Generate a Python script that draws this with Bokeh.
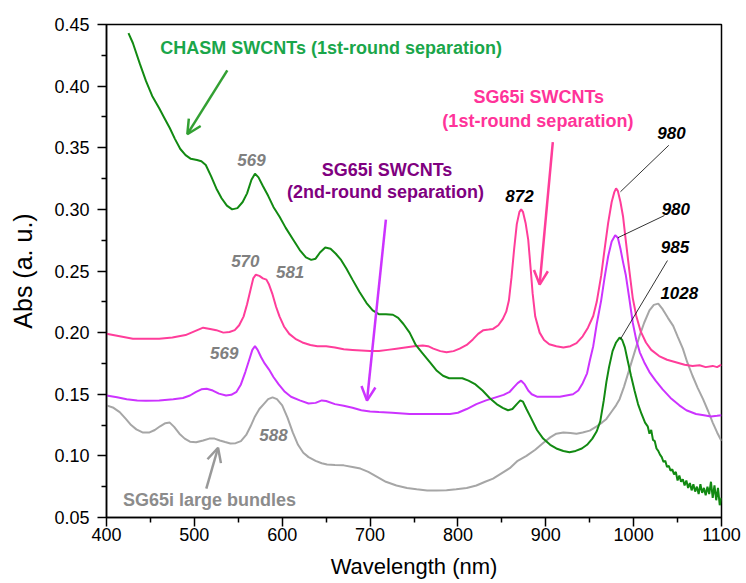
from bokeh.plotting import figure
from bokeh.models import Arrow, OpenHead, Label, Range1d, FixedTicker, NumeralTickFormatter
from bokeh.embed import file_html
from bokeh.resources import INLINE

# ---------------- data ----------------
chasm_x = [425, 430, 438, 445, 452, 460, 466, 472, 478, 484, 490, 496, 503, 508, 513, 519, 525, 531, 537, 543,
           549, 555, 560, 565, 569, 573, 578, 584, 590, 597, 604, 612, 620, 627, 633, 638, 643, 649, 655, 661,
           667, 673, 680, 688, 696, 703, 710, 718, 726, 732, 738, 745, 752, 760, 768, 776, 783, 790, 797, 805,
           812, 820, 828, 836, 844, 851, 857, 862, 867, 871, 874, 878, 883, 890, 897, 905, 912, 920, 927, 934,
           941, 947, 953, 958, 962, 966, 969, 972, 976, 980, 984, 987, 990, 993, 997, 1001, 1005, 1009, 1013,
           1016, 1018, 1020, 1022, 1024, 1026, 1028, 1030, 1032, 1034, 1036, 1038, 1040, 1042, 1044, 1046, 1048,
           1050, 1052, 1054, 1056, 1058, 1060, 1062, 1064, 1066, 1068, 1070, 1072, 1074, 1076, 1078, 1080, 1082,
           1084, 1086, 1088, 1090, 1092, 1094, 1096, 1098, 1100]
chasm_y = [0.443, 0.435, 0.418, 0.404, 0.392, 0.382, 0.374, 0.366, 0.357, 0.349, 0.344, 0.341, 0.340, 0.339,
           0.336, 0.327, 0.317, 0.309, 0.303, 0.300, 0.301, 0.306, 0.313, 0.324, 0.329, 0.326, 0.319, 0.311,
           0.302, 0.294, 0.285, 0.276, 0.267, 0.261, 0.259, 0.260, 0.265, 0.269, 0.268, 0.264, 0.259, 0.252,
           0.243, 0.233, 0.224, 0.218, 0.215, 0.215, 0.2145, 0.212, 0.207, 0.200, 0.190, 0.183, 0.176, 0.169,
           0.165, 0.163, 0.163, 0.163, 0.161, 0.158, 0.153, 0.147, 0.142, 0.139, 0.137, 0.138, 0.142, 0.145,
           0.144, 0.138, 0.131, 0.121, 0.114, 0.109, 0.106, 0.104, 0.103, 0.104, 0.106, 0.109, 0.114, 0.120,
           0.128, 0.145, 0.160, 0.172, 0.185, 0.192, 0.196, 0.194, 0.188, 0.178, 0.165, 0.153, 0.142, 0.134,
           0.127, 0.124, 0.118, 0.121, 0.113, 0.112, 0.106, 0.104, 0.101, 0.099, 0.095, 0.096, 0.091, 0.092,
           0.088, 0.089, 0.085, 0.087, 0.080, 0.084, 0.079, 0.081, 0.076, 0.080, 0.074, 0.078, 0.072, 0.077,
           0.071, 0.075, 0.069, 0.077, 0.070, 0.074, 0.068, 0.075, 0.069, 0.079, 0.066, 0.076, 0.064, 0.074,
           0.060, 0.066]

sg1_x = [400, 415, 430, 445, 460, 475, 490, 500, 510, 518, 525, 533, 540, 546, 551, 556, 560, 564, 567, 570,
         574, 578, 582, 585, 589, 593, 597, 602, 608, 615, 623, 632, 640, 650, 660, 670, 680, 690, 700, 710,
         720, 730, 740, 750, 760, 766, 772, 780, 787, 795, 802, 810, 817, 823, 829, 835, 840, 846, 851, 855,
         858, 861, 864, 867, 870, 872, 874, 877, 880, 883, 885, 888, 893, 898, 904, 912, 920, 928, 935, 942,
         948, 954, 958, 963, 967, 971, 975, 978, 980, 982, 985, 988, 991, 995, 999, 1003, 1008, 1014, 1020,
         1029, 1038, 1048, 1058, 1067, 1075, 1082, 1090, 1095, 1100]
sg1_y = [0.199, 0.197, 0.195, 0.195, 0.195, 0.196, 0.198, 0.201, 0.204, 0.203, 0.202, 0.200, 0.2005, 0.202,
         0.206, 0.213, 0.223, 0.235, 0.244, 0.247, 0.246, 0.244, 0.243, 0.239, 0.231, 0.221, 0.213, 0.205,
         0.199, 0.195, 0.192, 0.190, 0.189, 0.189, 0.188, 0.1865, 0.186, 0.1855, 0.185, 0.185, 0.186, 0.187,
         0.188, 0.189, 0.1895, 0.189, 0.187, 0.185, 0.184, 0.185, 0.187, 0.190, 0.1945, 0.199, 0.202, 0.2025,
         0.203, 0.206, 0.211, 0.217, 0.226, 0.245, 0.268, 0.288, 0.298, 0.300, 0.298, 0.289, 0.2755, 0.250,
         0.232, 0.213, 0.200, 0.194, 0.1905, 0.189, 0.188, 0.189, 0.1915, 0.197, 0.204, 0.2135, 0.225, 0.246,
         0.268, 0.289, 0.306, 0.314, 0.317, 0.315, 0.306, 0.294, 0.275, 0.251, 0.228, 0.2135, 0.201, 0.192,
         0.186, 0.181, 0.178, 0.176, 0.174, 0.173, 0.1735, 0.172, 0.173, 0.172, 0.174]

sg2_x = [400, 412, 423, 435, 445, 460, 476, 487, 495, 502, 508, 514, 521, 528, 536, 542, 548, 553, 558, 562,
         566, 569, 572, 576, 580, 585, 590, 596, 603, 610, 620, 630, 638, 645, 650, 660, 670, 680, 690, 700,
         710, 725, 745, 765, 791, 800, 810, 821, 832, 843, 852, 859, 864, 868, 872, 876, 880, 884, 890, 900,
         916, 931, 937, 942, 947, 950, 954, 958, 963, 967, 971, 975, 979, 982, 985, 988, 991, 995, 999, 1003,
         1007, 1012, 1018, 1025, 1033, 1042, 1052, 1060, 1071, 1080, 1088, 1095, 1100]
sg2_y = [0.149, 0.1475, 0.146, 0.145, 0.1448, 0.145, 0.146, 0.147, 0.149, 0.152, 0.154, 0.1545, 0.153, 0.1505,
         0.149, 0.1495, 0.152, 0.158, 0.168, 0.177, 0.186, 0.189, 0.186, 0.180, 0.175, 0.170, 0.164, 0.158,
         0.152, 0.148, 0.145, 0.1425, 0.143, 0.145, 0.1445, 0.142, 0.1407, 0.139, 0.137, 0.136, 0.1355, 0.135,
         0.134, 0.134, 0.134, 0.135, 0.138, 0.142, 0.145, 0.1475, 0.1495, 0.152, 0.156, 0.159, 0.161, 0.158,
         0.153, 0.150, 0.148, 0.148, 0.148, 0.150, 0.153, 0.159, 0.167, 0.177, 0.189, 0.207, 0.226, 0.245,
         0.262, 0.274, 0.279, 0.277, 0.268, 0.257, 0.247, 0.228, 0.208, 0.194, 0.184, 0.176, 0.168, 0.161,
         0.154, 0.147, 0.141, 0.137, 0.134, 0.133, 0.132, 0.1325, 0.133]

bund_x = [400, 408, 415, 422, 428, 434, 441, 449, 455, 461, 467, 472, 477, 483, 489, 495, 502, 510, 517, 523,
          529, 535, 541, 547, 553, 559, 564, 569, 574, 579, 584, 589, 594, 600, 606, 612, 618, 624, 630, 638,
          645, 651, 660, 670, 680, 689, 698, 708, 718, 730, 742, 753, 765, 776, 787, 798, 810, 821, 831, 840,
          850, 859, 868, 878, 888, 897, 905, 912, 920, 928, 935, 942, 950, 958, 964, 969, 975, 980, 984, 989,
          995, 1001, 1007, 1012, 1018, 1023, 1028, 1033, 1039, 1045, 1050, 1056, 1061, 1067, 1073, 1079, 1085,
          1090, 1095, 1100]
bund_y = [0.141, 0.139, 0.1355, 0.130, 0.125, 0.1215, 0.119, 0.119, 0.121, 0.124, 0.1265, 0.127, 0.1235, 0.118,
          0.114, 0.1115, 0.111, 0.1125, 0.114, 0.114, 0.1125, 0.1112, 0.110, 0.1103, 0.112, 0.117, 0.124, 0.132,
          0.138, 0.142, 0.146, 0.1475, 0.146, 0.141, 0.131, 0.119, 0.109, 0.1025, 0.099, 0.096, 0.094, 0.093,
          0.0925, 0.0923, 0.091, 0.0897, 0.087, 0.083, 0.079, 0.076, 0.074, 0.073, 0.072, 0.072, 0.0722, 0.073,
          0.074, 0.076, 0.079, 0.0815, 0.086, 0.090, 0.096, 0.100, 0.105, 0.1105, 0.115, 0.118, 0.119, 0.1185,
          0.118, 0.119, 0.1205, 0.124, 0.127, 0.130, 0.136, 0.141, 0.146, 0.156, 0.170, 0.184, 0.198, 0.208,
          0.218, 0.2225, 0.2235, 0.219, 0.212, 0.2055, 0.197, 0.187, 0.176, 0.165, 0.155, 0.146, 0.136, 0.127,
          0.119, 0.112]

x_ticks = [400, 500, 600, 700, 800, 900, 1000, 1100]
x_minor = [450, 550, 650, 750, 850, 950, 1050]
y_ticks = [0.05, 0.10, 0.15, 0.20, 0.25, 0.30, 0.35, 0.40, 0.45]
y_minor = [0.075, 0.125, 0.175, 0.225, 0.275, 0.325, 0.375, 0.425]

# peak labels
peak_x = [565, 558, 609, 534, 590, 870, 1043, 1048, 1047, 1052]
peak_y = [0.340, 0.2585, 0.2488, 0.1833, 0.117, 0.3108, 0.3617, 0.3003, 0.2696, 0.232]
peak_text = ["569", "570", "581", "569", "588", "872", "980", "980", "985", "1028"]
peak_color = ["#808080"] * 5 + ["#000000"] * 5

# leader lines for 980 / 980 / 985
lead_x0 = [1040, 1035, 1038.5]
lead_y0 = [0.352, 0.295, 0.2585]
lead_x1 = [985, 982, 985]
lead_y1 = [0.3143, 0.277, 0.1947]

# ---------------- figure ----------------
FONT = "Liberation Sans"
p = figure(width=742, height=581, x_range=Range1d(400, 1100), y_range=Range1d(0.05, 0.45),
           output_backend="svg", toolbar_location=None,
           min_border_left=106, min_border_right=21, min_border_top=24, min_border_bottom=62)
p.xgrid.visible = False
p.ygrid.visible = False
p.outline_line_color = "black"
p.outline_line_width = 1.5
p.outline_line_alpha = 1.0

p.xaxis.ticker = FixedTicker(ticks=x_ticks, minor_ticks=x_minor)
p.yaxis.ticker = FixedTicker(ticks=y_ticks, minor_ticks=y_minor)
p.yaxis.formatter = NumeralTickFormatter(format="0.00")

for ax in (p.xaxis[0], p.yaxis[0]):
    ax.axis_line_width = 1.5
    ax.axis_line_color = "black"
    ax.major_tick_line_width = 1.5
    ax.minor_tick_line_width = 1.5
    ax.major_tick_line_color = "black"
    ax.minor_tick_line_color = "black"
    ax.major_tick_in = 0
    ax.major_tick_out = 9
    ax.minor_tick_in = 0
    ax.minor_tick_out = 5
    ax.major_label_text_font = FONT
    ax.major_label_text_font_size = "18px"
    ax.major_label_text_color = "black"
    ax.axis_label_text_font = FONT
    ax.axis_label_text_font_style = "normal"
    ax.axis_label_text_color = "black"

p.xaxis.axis_label = "Wavelength (nm)"
p.xaxis.axis_label_text_font_size = "22px"
p.xaxis.major_label_standoff = 1
p.xaxis.axis_label_standoff = 10
p.yaxis.axis_label = "Abs (a. u.)"
p.yaxis.axis_label_text_font_size = "25px"
p.yaxis.major_label_standoff = 8
p.yaxis.axis_label_standoff = 14

# curves
p.line(bund_x, bund_y, line_color="#a6a6a6", line_width=2)
p.line(sg2_x, sg2_y, line_color="#cc33ff", line_width=2)
p.line(sg1_x, sg1_y, line_color="#ff3d9a", line_width=2)
p.line(chasm_x, chasm_y, line_color="#128a12", line_width=2)

# leader lines
p.segment(lead_x0, lead_y0, lead_x1, lead_y1, line_color="black", line_width=0.8)

# arrows
def arrow(x0, y0, x1, y1, color):
    p.add_layout(Arrow(end=OpenHead(size=14, line_color=color, line_width=2.5),
                       x_start=x0, y_start=y0, x_end=x1, y_end=y1,
                       line_color=color, line_width=2.5))

arrow(537.5, 0.4128, 492, 0.361, "#33a033")
arrow(718, 0.2916, 696.5, 0.1448, "#cc33ff")
arrow(908, 0.3546, 893, 0.239, "#ff3d9a")
arrow(513.6, 0.0734, 527, 0.1066, "#999999")

# text annotations
def label(x, y, text, color, style="bold", size="18px"):
    p.add_layout(Label(x=x, y=y, text=text, text_align="center", text_baseline="middle",
                       text_font=FONT, text_font_size=size, text_font_style=style,
                       text_color=color))

label(655.7, 0.4306, "CHASM SWCNTs (1st-round separation)", "#1aa64a")
label(719.3, 0.332, "SG65i SWCNTs", "#800080")
label(717.5, 0.3145, "(2nd-round separation)", "#800080")
label(892, 0.391, "SG65i SWCNTs", "#ff3399")
label(891, 0.372, "(1st-round separation)", "#ff3399")
label(517.3, 0.0646, "SG65i large bundles", "#8c8c8c")

for px_, py_, t, c in zip(peak_x, peak_y, peak_text, peak_color):
    label(px_, py_, t, c, style="bold italic", size="17px")

open("out.html", "w").write(file_html(p, INLINE))
